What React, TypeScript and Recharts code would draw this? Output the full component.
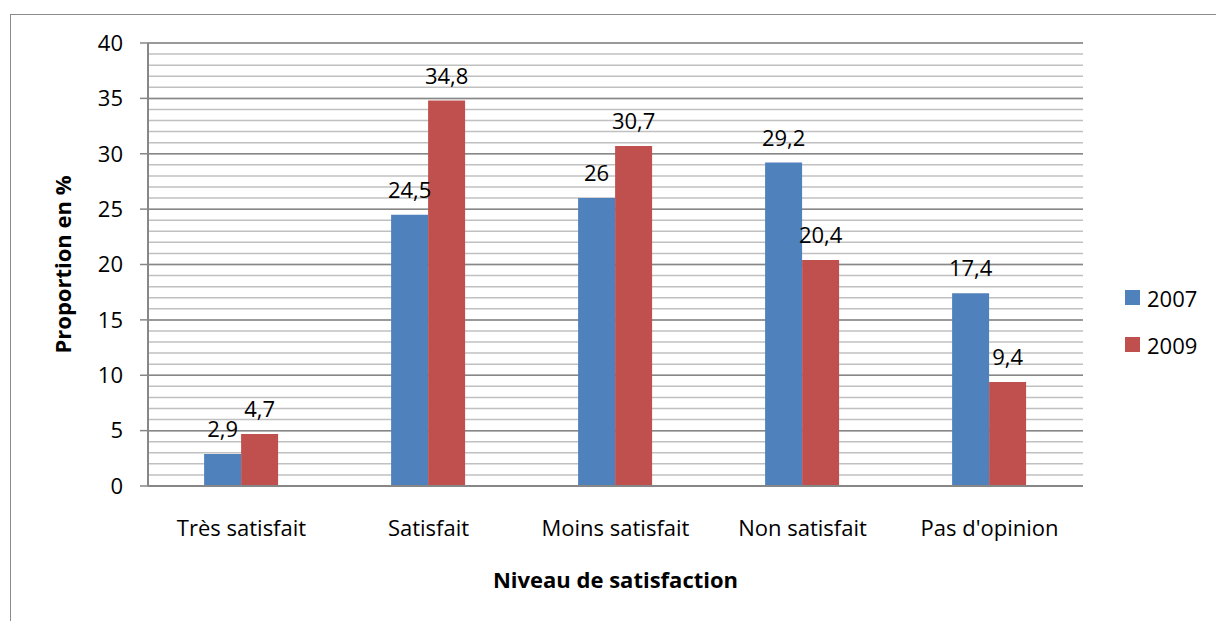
import React from 'react';
import { BarChart, Bar, XAxis, YAxis, CartesianGrid, LabelList } from 'recharts';

const categories = ['Très satisfait', 'Satisfait', 'Moins satisfait', 'Non satisfait', "Pas d'opinion"];
const values2007 = [2.9, 24.5, 26, 29.2, 17.4];
const values2009 = [4.7, 34.8, 30.7, 20.4, 9.4];
const yTicks = [0, 5, 10, 15, 20, 25, 30, 35, 40];
const minorTicks = Array.from({ length: 41 }, (_, i) => i);
const seriesNames = ['2007', '2009'];
const seriesColors = ['#4F81BD', '#C0504D'];

const data = categories.map((c, i) => ({ name: c, y2007: values2007[i], y2009: values2009[i] }));

const FONT = '"Open Sans", sans-serif';
const FS = 22;
const fmt = (v: any) => String(v).replace('.', ',');

export default function App() {
  return (
    <div style={{ position: 'absolute', left: 0, top: 0, width: 1216, height: 621, background: '#fff', overflow: 'hidden' }}>
      <div style={{ position: 'absolute', left: 10, top: 14, width: 1220, height: 620, border: '1.5px solid #8a8a8a', boxSizing: 'border-box' }} />
      <BarChart
        width={1216}
        height={621}
        data={data}
        margin={{ top: 43, right: 133, bottom: 105, left: 0 }}
        barCategoryGap="30%"
        barGap={0}
      >
        <CartesianGrid horizontal vertical={false} horizontalValues={minorTicks} stroke="#c0c0c0" strokeWidth={1.5} />
        <CartesianGrid horizontal vertical={false} horizontalValues={yTicks} stroke="#878787" strokeWidth={1.5} />
        <XAxis
          dataKey="name"
          height={30}
          tickLine={false}
          axisLine={{ stroke: '#878787', strokeWidth: 2 }}
          tick={{ fontFamily: FONT, fontSize: FS, fill: '#000' }}
          tickMargin={28}
          interval={0}
          label={{
            content: ({ viewBox }: any) => (
              <text
                x={viewBox.x + viewBox.width / 2}
                y={579}
                textAnchor="middle"
                dominantBaseline="central"
                fontFamily={FONT}
                fontSize={FS}
                fontWeight="bold"
                fill="#000"
              >
                Niveau de satisfaction
              </text>
            ),
          }}
        />
        <YAxis
          width={148}
          domain={[0, 40]}
          ticks={yTicks}
          interval={0}
          tickSize={8}
          tickLine={{ stroke: '#878787', strokeWidth: 1.5 }}
          axisLine={{ stroke: '#878787', strokeWidth: 2 }}
          tick={{ fontFamily: FONT, fontSize: FS, fill: '#000' }}
          tickMargin={17}
          label={{
            content: ({ viewBox }: any) => {
              const cy = viewBox.y + viewBox.height / 2;
              return (
                <text
                  x={62}
                  y={cy}
                  transform={`rotate(-90, 62, ${cy})`}
                  textAnchor="middle"
                  dominantBaseline="central"
                  fontFamily={FONT}
                  fontSize={FS}
                  fontWeight="bold"
                  fill="#000"
                >
                  Proportion en %
                </text>
              );
            },
          }}
        />
        <Bar dataKey="y2007" name="2007" fill={seriesColors[0]} isAnimationActive={false}>
          <LabelList dataKey="y2007" position="top" offset={17} formatter={fmt} style={{ fontFamily: FONT, fontSize: FS, fill: '#000' }} />
        </Bar>
        <Bar dataKey="y2009" name="2009" fill={seriesColors[1]} isAnimationActive={false}>
          <LabelList dataKey="y2009" position="top" offset={17} formatter={fmt} style={{ fontFamily: FONT, fontSize: FS, fill: '#000' }} />
        </Bar>
      </BarChart>
      <div style={{ position: 'absolute', left: 1125, top: 274, fontFamily: FONT, fontSize: FS, color: '#000' }}>
        {seriesNames.map((t, i) => (
          <div key={t} style={{ display: 'flex', alignItems: 'center', height: 47 }}>
            <span style={{ width: 15, height: 15, background: seriesColors[i], display: 'inline-block', marginRight: 7 }} />
            <span>{t}</span>
          </div>
        ))}
      </div>
    </div>
  );
}
